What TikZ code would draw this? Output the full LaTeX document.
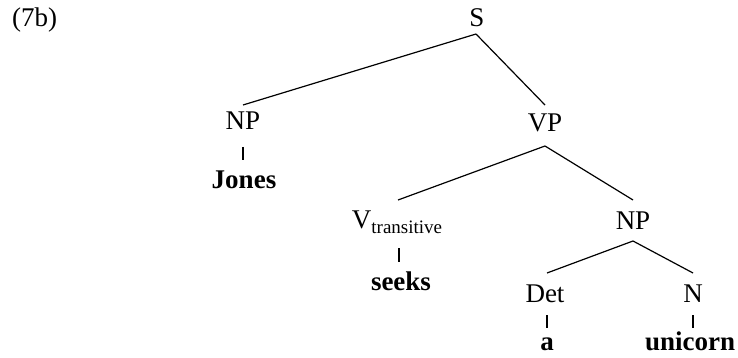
\documentclass[tikz,border=0pt]{standalone}
\usepackage{fontspec}
\setmainfont{Liberation Serif}
\begin{document}
\begin{tikzpicture}[x=1pt,y=-1pt,
  lab/.style={anchor=base,inner sep=0pt,font=\fontsize{27}{30}\selectfont},
  word/.style={lab,font=\fontsize{27}{30}\selectfont\bfseries},
  edge/.style={line width=1.2pt},
  tick/.style={line width=1.1pt}]
\useasboundingbox (0,0) rectangle (738,358);
% labels
\node[lab,anchor=base west] (ex) at (12,27) {(7b)};
\node[lab] (S) at (477,27) {S};
\node[lab] (NPa) at (243,130) {NP};
\node[word] (Jones) at (244,188) {Jones};
\node[lab] (VP) at (545,132) {VP};
\node[lab] (V) at (397,228) {V{\fontsize{19}{20}\selectfont\raisebox{-5pt}{transitive}}};
\node[word] (seeks) at (401,290) {seeks};
\node[lab] (NPb) at (633,229) {NP};
\node[lab] (Det) at (545,302) {Det};
\node[lab] (N) at (693,302) {N};
\node[word] (a) at (547,350) {a};
\node[word] (unicorn) at (690,350) {unicorn};
% branches
\draw[edge] ([xshift=-1pt,yshift=-7pt]S.base) -- ([yshift=25pt]NPa.base);
\draw[edge] ([xshift=-1pt,yshift=-7pt]S.base) -- ([yshift=27pt]VP.base);
\draw[edge] ([yshift=-14pt]VP.base) -- ([xshift=1pt,yshift=28pt]V.base);
\draw[edge] ([yshift=-14pt]VP.base) -- ([yshift=29pt]NPb.base);
\draw[edge] ([yshift=-12pt]NPb.base) -- ([xshift=2pt,yshift=29pt]Det.base);
\draw[edge] ([yshift=-12pt]NPb.base) -- ([yshift=29pt]N.base);
% unary ticks
\draw[tick] ([yshift=-17pt]NPa.base) -- ([xshift=-1pt,yshift=28pt]Jones.base);
\draw[tick] ([xshift=2pt,yshift=-20pt]V.base) -- ([xshift=-2pt,yshift=28pt]seeks.base);
\draw[tick] ([xshift=2pt,yshift=-13pt]Det.base) -- ([yshift=22pt]a.base);
\draw[tick] ([yshift=-13pt]N.base) -- ([xshift=3pt,yshift=22pt]unicorn.base);
\end{tikzpicture}
\end{document}
